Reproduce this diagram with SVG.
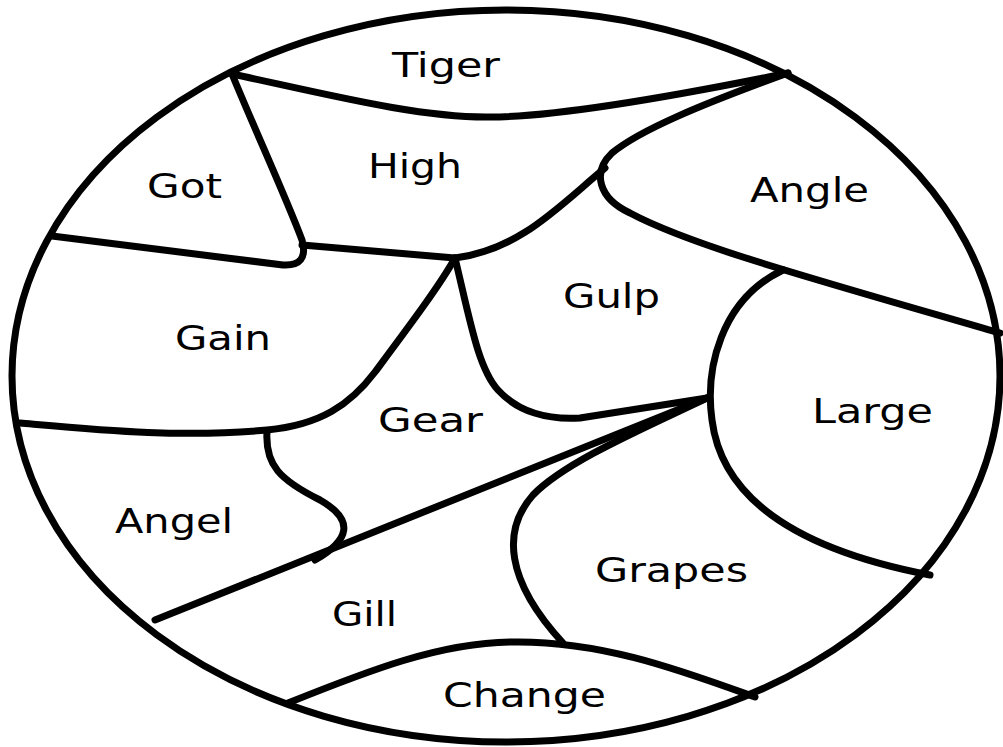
<svg xmlns="http://www.w3.org/2000/svg" width="1003" height="747" viewBox="0 0 1003 747">
<style>
.ln{fill:none;stroke:#000;stroke-width:7;stroke-linecap:round;stroke-linejoin:round}
.t{font-family:"DejaVu Sans","Noto Sans",sans-serif;font-size:34px;fill:#000}
</style>
<rect width="1003" height="747" fill="#fff"/>
<g id="lines">
<ellipse class="ln" cx="506" cy="376" rx="494" ry="366"/>
<path class="ln" d="M232,74 C330,95 420,118 490,117 C560,117 680,95 788,73"/>
<path class="ln" d="M232,74 C255,130 285,195 302,240 C307,258 300,266 283,265 L52,236"/>
<path class="ln" d="M302,245 L455,258 C520,250 560,205 605,168"/>
<path class="ln" d="M788,73 C700,105 640,130 612,153 C592,172 598,198 630,213 C690,245 800,275 1000,333"/>
<path class="ln" d="M455,258 C470,320 478,368 498,390 C518,412 548,420 580,418 L707,398"/>
<path class="ln" d="M783,270 C720,300 705,370 712,420 C722,500 800,550 930,575"/>
<path class="ln" d="M707,398 L155,620"/>
<path class="ln" d="M707,398 C640,430 565,462 533,495 C502,530 505,580 563,643"/>
<path class="ln" d="M288,703 C370,670 440,643 510,642 C600,640 680,670 755,697"/>
<path class="ln" d="M20,423 C100,430 180,438 267,430 C320,425 350,405 375,372 C410,325 440,285 455,258"/>
<path class="ln" d="M267,432 C265,465 280,480 320,500 C355,520 350,540 315,560"/>
</g>
<g id="tiger"><text class="t" x="392" y="77" textLength="108" lengthAdjust="spacingAndGlyphs">Tiger</text></g>
<g id="high"><text class="t" x="368" y="178" textLength="94" lengthAdjust="spacingAndGlyphs">High</text></g>
<g id="got"><text class="t" x="147" y="198" textLength="75" lengthAdjust="spacingAndGlyphs">Got</text></g>
<g id="gain"><text class="t" x="175" y="350" textLength="96" lengthAdjust="spacingAndGlyphs">Gain</text></g>
<g id="angle"><text class="t" x="750" y="202" textLength="119" lengthAdjust="spacingAndGlyphs">Angle</text></g>
<g id="gulp"><text class="t" x="563" y="308" textLength="97" lengthAdjust="spacingAndGlyphs">Gulp</text></g>
<g id="gear"><text class="t" x="378" y="432" textLength="105" lengthAdjust="spacingAndGlyphs">Gear</text></g>
<g id="large"><text class="t" x="812" y="423" textLength="121" lengthAdjust="spacingAndGlyphs">Large</text></g>
<g id="angel"><text class="t" x="115" y="533" textLength="118" lengthAdjust="spacingAndGlyphs">Angel</text></g>
<g id="grapes"><text class="t" x="595" y="582" textLength="153" lengthAdjust="spacingAndGlyphs">Grapes</text></g>
<g id="gill"><text class="t" x="332" y="626" textLength="65" lengthAdjust="spacingAndGlyphs">Gill</text></g>
<g id="change"><text class="t" x="443" y="707" textLength="163" lengthAdjust="spacingAndGlyphs">Change</text></g>
</svg>
